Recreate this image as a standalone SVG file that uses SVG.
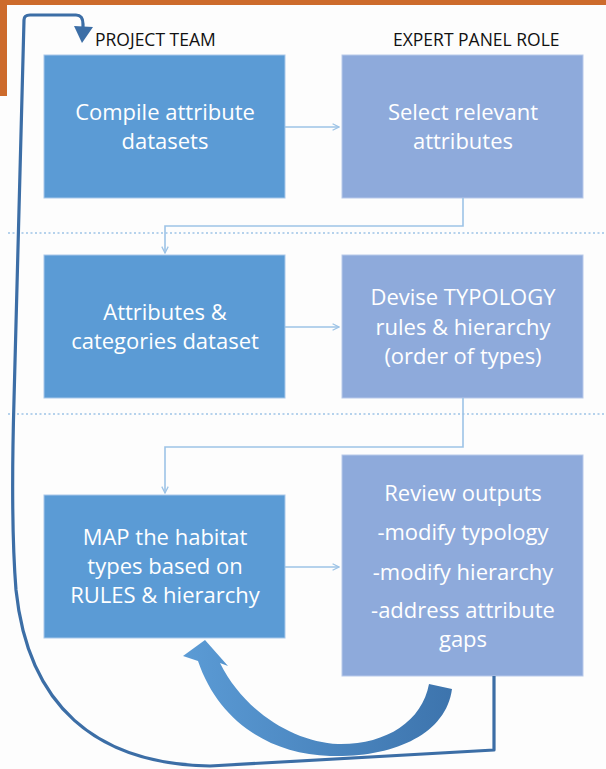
<svg xmlns="http://www.w3.org/2000/svg" width="606" height="769" viewBox="0 0 606 769">
<style>
.bl{fill:#5b9bd5;stroke:#a9c8ea;stroke-width:1}
.br{fill:#8eaadb;stroke:#b8c9ea;stroke-width:1}
.t{font-family:"Open Sans","Liberation Sans",sans-serif;font-size:22px;fill:#ffffff;text-anchor:middle}
.h{font-family:"Open Sans","Liberation Sans",sans-serif;font-size:17.5px;fill:#111111}
.c{fill:none;stroke:#9dc3e6;stroke-width:1.6}
.d{stroke:#9dc3e6;stroke-width:1.3;stroke-dasharray:2 2.5}
</style>
<defs>
<marker id="ah" viewBox="0 0 10 10" refX="9" refY="5" markerWidth="8" markerHeight="8" orient="auto" markerUnits="userSpaceOnUse">
<path d="M1 1 L9 5 L1 9" fill="none" stroke="#9dc3e6" stroke-width="1.6"/>
</marker>
<linearGradient id="g" x1="0" y1="0" x2="1" y2="0">
<stop offset="0" stop-color="#5b9bd5"/>
<stop offset="1" stop-color="#3d74ad"/>
</linearGradient>
</defs>
<rect width="606" height="769" fill="#fdfdfd"/>
<rect x="0" y="0" width="606" height="5" fill="#cd6b2c"/>
<rect x="0" y="0" width="7" height="96" fill="#cd6b2c"/>
<line class="d" x1="8" y1="233" x2="606" y2="233"/>
<line class="d" x1="8" y1="414" x2="606" y2="414"/>
<text class="h" x="95" y="46">PROJECT TEAM</text>
<text class="h" x="393" y="46">EXPERT PANEL ROLE</text>
<g id="n1"><rect class="bl" x="44" y="55" width="241" height="143"/><text class="t" x="165" y="120">Compile attribute</text><text class="t" x="165" y="149">datasets</text></g>
<g id="n2"><rect class="br" x="342" y="55" width="241" height="143"/><text class="t" x="463" y="120">Select relevant</text><text class="t" x="463" y="149">attributes</text></g>
<g id="n3"><rect class="bl" x="44" y="255" width="241" height="143"/><text class="t" x="165" y="320">Attributes &amp;</text><text class="t" x="165" y="349">categories dataset</text></g>
<g id="n4"><rect class="br" x="342" y="255" width="241" height="143"/><text class="t" x="463" y="305">Devise TYPOLOGY</text><text class="t" x="463" y="335">rules &amp; hierarchy</text><text class="t" x="463" y="364">(order of types)</text></g>
<g id="n5"><rect class="bl" x="44" y="495" width="241" height="143"/><text class="t" x="165" y="545">MAP the habitat</text><text class="t" x="165" y="574">types based on</text><text class="t" x="165" y="603">RULES &amp; hierarchy</text></g>
<g id="n6"><rect class="br" x="342" y="455" width="241" height="221"/><text class="t" x="463" y="501">Review outputs</text><text class="t" x="463" y="540">-modify typology</text><text class="t" x="463" y="580">-modify hierarchy</text><text class="t" x="463" y="618">-address attribute</text><text class="t" x="463" y="647">gaps</text></g>
<g id="connectors">
<path class="c" d="M285 127 H339" marker-end="url(#ah)"/>
<path class="c" d="M285 327 H339" marker-end="url(#ah)"/>
<path class="c" d="M285 567 H339" marker-end="url(#ah)"/>
<path class="c" d="M463 198 V226 H165 V253" marker-end="url(#ah)"/>
<path class="c" d="M463 398 V447 H165 V493" marker-end="url(#ah)"/>
<path d="M494 676 V750 L210 766 C95 764 28 705 16 590 C12 540 12 470 14 400 L24 20 Q24 15 30 15 L76 15 Q83 15 83 24 L83 28" fill="none" stroke="#3c6ea6" stroke-width="3.2" stroke-linejoin="round"/>
<path d="M74 26 L93 27 L82 43 Z" fill="#3c6ea6"/>
<path d="M198 661 L183 656 L205 640 L228 666 L220 663 C245 713 295 742 338 744 C385 745 422 722 429 684 L452 689 C446 735 392 758 330 756 C268 754 218 720 198 661 Z" fill="url(#g)"/>
</g>
</svg>
